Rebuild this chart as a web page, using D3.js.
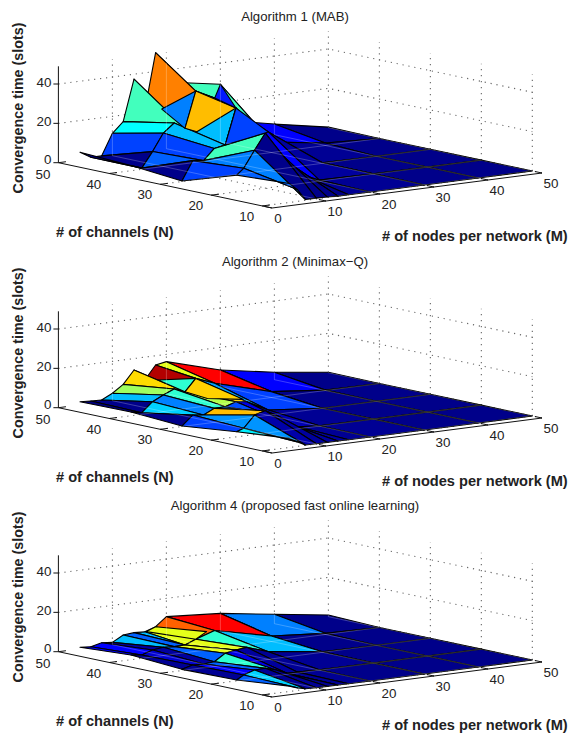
<!DOCTYPE html>
<html lang="en">

<head>
  <meta charset="UTF-8" />
  <title>convergence time surfaces</title>
  <script src="https://d3js.org/d3.v7.min.js"></script>
  <style>
    body { margin: 0; background: #fff; }
    text { font-family: "Liberation Sans", Arial, sans-serif; fill: #222; }
  </style>
</head>

<body>
  <svg id="svg"></svg>
</body>

<script>
  const channels = [50, 40, 30, 20, 10];
  const nodeTicks = [0, 10, 20, 30, 40, 50];
  const channelTicks = [10, 20, 30, 40, 50];
  const timeTicks = [0, 20, 40];

  // node counts sampled on each channel row (14 and 30 are listed twice, the surface has steps there)
  const nodes = [
    [4, 6, 8, 10, 12, 14, 16, 18, 20, 30, 30, 40, 50],
    [4, 6, 8, 10, 12, 14, 14, 16, 19.5, 30, 30, 40, 50],
    [4, 6, 8, 10, 12, 14, 14, 16, 20, 30, 30, 40, 50],
    [4.7, 6, 8, 10, 12, 14, 14, 16, 20, 30, 30, 40, 50],
    [5, 6.5, 8, 10, 12, 14, 14, 16, 20, 30, 30, 40, 50]
  ];

  const titles = ["Algorithm 1 (MAB)", "Algorithm 2 (Minimax\u2212Q)", "Algorithm 4 (proposed fast online learning)"];

  const time1 = [
    [3.9, .6, .6, 11.4, 16.6, 37.5, 21, 49.5, 33.9, 29.2, 11, 5.4, .3],
    [2.6, .6, 8.3, 17, 21.4, 18, 18, 36.2, 31.4, 5.3, 5.3, 1.3, 0],
    [.25, 9.9, 9.2, 14.7, 15.7, 33.8, 33.8, 27.5, 19.5, .3, .3, 0, 0],
    [8.5, 11.5, 20, 28, 19, 12, 12, 5.5, .5, .2, .2, 0, 0],
    [9.6, 6, .4, .4, .3, 0, 0, 0, 0, 0, 0, 0, 0]
  ];
  const time2 = [
    [1.6, 1.3, 1.1, 3.8, 7.6, 14.2, 8.4, 15.3, 16.3, 8.5, 8.5, 3.8, .2],
    [1.9, .8, 5.7, 8.4, 10.7, 8.6, 8.6, 14.7, 11, 3, 3, .2, 0],
    [.25, 5.1, 4.4, 7.1, 7.2, 9, 9, 8.3, 2.7, 0, 0, 0, 0],
    [2.6, 3.9, 9.9, 11.4, 8.5, 3.6, 3.6, 1.1, .2, 0, 0, 0, 0],
    [4.6, 2.3, .2, .1, .1, .1, .1, 0, 0, 0, 0, 0, 0]
  ];
  const time3 = [
    [.8, .4, 1.7, 1.2, 4.2, 4.7, 4.4, 6.3, 10.7, 8.8, 8.8, 4.8, .9],
    [2.4, 1.7, 3.5, 4.2, 3.8, 3.9, 3.9, 6.1, 9.3, 2.8, 2.8, .6, 0],
    [.6, 2.1, 1.9, 2.3, 5.9, 6.9, 6.9, 7.5, 3.9, .3, .3, 0, 0],
    [.4, 2.5, 4.3, 4.5, 2.9, .5, .5, .4, .2, 0, 0, 0, 0],
    [2.7, 1.3, .3, .1, .1, .1, .1, 0, 0, 0, 0, 0, 0]
  ];

  // colour level of each facet, 0..1 on the jet map
  const level1 = [
    [0, .01, .19, .375, .44, .44, .75, .75, .44, .01, .125, .01],
    [.01, .22, .19, .31, .31, .31, .69, .19, .125, .125, .02, .01],
    [.19, .25, .44, .19, .19, .19, .19, .125, .03, .03, .01, .01],
    [.22, .25, .01, .01, .01, .01, .01, .02, .02, .01, .01, .01]
  ];
  const level2 = [
    [0, .01, .31, .53, .66, .66, .95, .6, .875, .125, .125, .01],
    [.01, .33, .25, .42, .55, .55, .67, .28, .19, .19, .01, .01],
    [.19, .27, .69, .25, .2, .1, .1, .05, .02, .02, .01, .01],
    [.36, .27, .04, .03, .03, .03, .03, .02, .02, .01, .01, .01]
  ];
  const level3 = [
    [.125, .125, .03, .31, .22, .31, .6, .78, .875, .25, .25, .01],
    [.02, .08, .03, .22, .6, .6, .6, .42, .31, .31, .01, .01],
    [.02, .125, .22, .42, .1, .03, .03, .02, .02, .02, .01, .01],
    [.22, .33, .02, .02, .02, .02, .02, .02, .01, .01, .01, .01]
  ];

  // facets that overlap the grid cells: level, then [nodes, channels, time] corners
  const extra1 = [
    [.25, [9.7, 40, 29.3], [16, 40, 36.2], [14, 40, 18]],
    [.69, [14, 40, 18], [16, 40, 36.2], [14, 30, 33.8], [16.2, 40, 15.5]],
    [.15, [30, 50, 29.2], [14, 30, 33.8], [19.5, 40, 31.4]],
    [.19, [14, 30, 33.8], [20, 30, 19.5], [12, 30, 15.7]]
  ];
  const extra2 = [
    [.42, [9, 40, 16.4], [16, 40, 14.7], [14, 40, 8.6]],
    [.67, [14, 40, 8.6], [16, 40, 14.7], [15.3, 30, 9.8], [8.7, 30, 12.6]]
  ];
  const extra3 = [
    [.6, [16.3, 50, 4.4], [18, 50, 6.3], [18, 40, 9.3], [16, 40, 6.1]]
  ];

  const panels = [
    { title: titles[0], time: time1, level: level1, extra: extra1, dy: 0 },
    { title: titles[1], time: time2, level: level2, extra: extra2, dy: 245 },
    { title: titles[2], time: time3, level: level3, extra: extra3, dy: 489 }
  ];

  const width = 571;
  const height = 733;
  const svg = d3.select("#svg").attr("width", width).attr("height", height).style("display", "block");

  // oblique view of the box, one pair of scales per data axis
  const nodeMin = 0, nodeMax = 50, chanMin = 8.1, chanMax = 50, timeMax = 49;
  const nodeX = d3.scaleLinear().domain([nodeMin, nodeMax]).range([0, 270]);
  const nodeY = d3.scaleLinear().domain([nodeMin, nodeMax]).range([0, -35]);
  const chanX = d3.scaleLinear().domain([chanMax, chanMin]).range([58.4, 272]);
  const chanY = d3.scaleLinear().domain([chanMax, chanMin]).range([162.7, 208]);
  const timeY = d3.scaleLinear().domain([0, timeMax]).range([0, -96.4]);

  const jet = d3.scaleLinear()
    .domain([0, .125, .375, .625, .875, 1])
    .range(["#000080", "#0000ff", "#00ffff", "#ffff00", "#ff0000", "#800000"]);

  function project(p) {
    return [chanX(p[1]) + nodeX(p[0]), chanY(p[1]) + nodeY(p[0]) + timeY(p[2])];
  }

  const path = d3.line().x(d => d[0]).y(d => d[1]);

  function drawPanel(panel, index) {
    const g = svg.append("g").attr("transform", `translate(0, ${panel.dy})`);

    g.append("text")
      .attr("x", 295).attr("y", 21)
      .attr("text-anchor", "middle").attr("font-size", 13.2)
      .text(panel.title);

    // box grid behind the surface
    const wall = [];
    nodeTicks.slice(1).forEach(m => {
      wall.push([[m, chanMax, 0], [m, chanMax, timeMax]]);
      wall.push([[m, chanMin, 0], [m, chanMax, 0]]);
    });
    channelTicks.slice(0, -1).forEach(n => {
      wall.push([[nodeMax, n, 0], [nodeMax, n, timeMax]]);
      wall.push([[nodeMin, n, 0], [nodeMax, n, 0]]);
    });
    timeTicks.slice(1).forEach(t => {
      wall.push([[nodeMin, chanMax, t], [nodeMax, chanMax, t], [nodeMax, 10, t]]);
    });
    g.append("g").selectAll("path").data(wall).join("path")
      .attr("d", d => path(d.map(project)))
      .attr("fill", "none").attr("stroke", "#666")
      .attr("stroke-width", 1.1).attr("stroke-dasharray", "1.2 4.8");

    // facets, far corner first
    const faces = [];
    for (let r = 0; r < panel.level.length; r++) {
      for (let c = panel.level[r].length - 1; c >= 0; c--) {
        const corner = (i, j) => [nodes[i][j], channels[i], panel.time[i][j]];
        faces.push({
          level: panel.level[r][c],
          pts: [corner(r, c), corner(r, c + 1), corner(r + 1, c + 1), corner(r + 1, c)]
        });
      }
    }
    panel.extra.forEach(e => faces.push({ level: e[0], pts: e.slice(1) }));

    g.append("g").selectAll("path").data(faces).join("path")
      .attr("d", d => path(d.pts.map(project)) + "Z")
      .attr("fill", d => jet(d.level))
      .attr("stroke", "#000").attr("stroke-width", 1.1).attr("stroke-linejoin", "round");

    // the box grid shows faintly through the surface
    const clipId = "surface" + index;
    g.append("clipPath").attr("id", clipId).selectAll("path").data(faces).join("path")
      .attr("d", d => path(d.pts.map(project)) + "Z");
    const through = wall.filter(d => d.length === 2);
    g.append("g").attr("clip-path", `url(#${clipId})`)
      .selectAll("path").data(through).join("path")
      .attr("d", d => path(d.map(project)))
      .attr("fill", "none").attr("stroke", "#fff")
      .attr("stroke-opacity", .3).attr("stroke-width", .8);

    // axes
    const axis = g.append("g").attr("fill", "none").attr("stroke", "#111").attr("stroke-width", 1);
    axis.append("path").attr("d", path([[nodeMin, chanMax, 0], [nodeMin, chanMax, timeMax]].map(project)));
    axis.append("path").attr("d", path([[nodeMin, chanMax, 0], [nodeMin, chanMin, 0], [nodeMax, chanMin, 0]].map(project)));
    timeTicks.forEach(t => {
      const p = project([nodeMin, chanMax, t]);
      axis.append("path").attr("d", path([[p[0] - 5, p[1]], [p[0], p[1]]]));
      g.append("text").attr("x", p[0] - 7).attr("y", p[1] + (t === 0 ? 1.5 : 3))
        .attr("text-anchor", "end").attr("font-size", 13.4).text(t);
    });
    channelTicks.forEach(n => {
      const p = project([nodeMin, n, 0]);
      const q = project([nodeMin + 1.4, n, 0]);
      axis.append("path").attr("d", path([p, q]));
      g.append("text").attr("x", p[0] - 15.5).attr("y", p[1] + (n === 50 ? 16.5 : 15))
        .attr("text-anchor", "middle").attr("font-size", 13.4).text(n);
    });
    nodeTicks.forEach(m => {
      const p = project([m, chanMin, 0]);
      const q = project([m, chanMin + 1.4, 0]);
      axis.append("path").attr("d", path([p, q]));
      g.append("text").attr("x", p[0] + (m === 0 ? 6 : 9)).attr("y", p[1] + 15)
        .attr("text-anchor", "middle").attr("font-size", 13.4).text(m);
    });

    g.append("text")
      .attr("transform", "translate(23, 108) rotate(-90)")
      .attr("text-anchor", "middle").attr("font-size", 14.3).attr("font-weight", "bold")
      .text("Convergence time (slots)");
    g.append("text").attr("x", 56).attr("y", 237)
      .attr("font-size", 14.6).attr("font-weight", "bold").text("# of channels (N)");
    g.append("text").attr("x", 382).attr("y", 241)
      .attr("font-size", 14.6).attr("font-weight", "bold").text("# of nodes per network (M)");
  }

  panels.forEach(drawPanel);
</script>

</html>
